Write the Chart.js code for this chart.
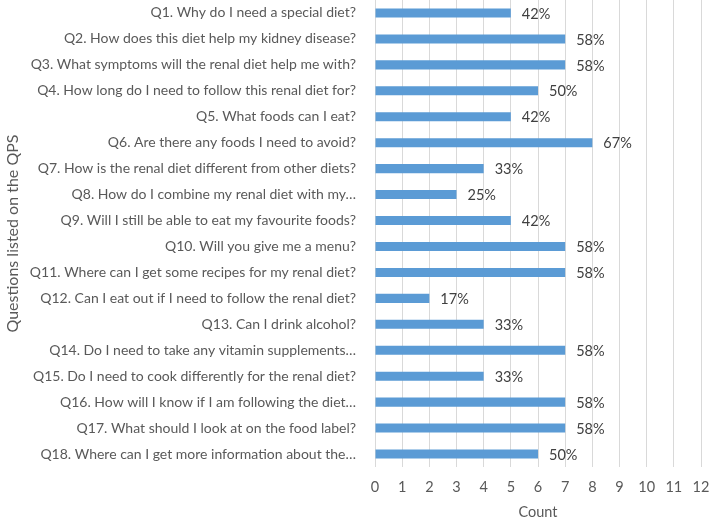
<!DOCTYPE html>
<html>
<head>
<meta charset="utf-8">
<script src="https://cdn.jsdelivr.net/npm/chart.js@4/dist/chart.umd.min.js"></script>
<style>
  html, body { margin: 0; padding: 0; background: #fff; }
  #wrap { width: 709px; height: 517px; }
</style>
</head>
<body>
<div id="wrap"><canvas id="myChart"></canvas></div>
<script>

// questions from the QPS
var questions = [
	"Q1. Why do I need a special diet?",
	"Q2. How does this diet help my kidney disease?",
	"Q3. What symptoms will the renal diet help me with?",
	"Q4. How long do I need to follow this renal diet for?",
	"Q5. What foods can I eat?",
	"Q6. Are there any foods I need to avoid?",
	"Q7. How is the renal diet different from other diets?",
	"Q8. How do I combine my renal diet with my\u2026",
	"Q9. Will I still be able to eat my favourite foods?",
	"Q10. Will you give me a menu?",
	"Q11. Where can I get some recipes for my renal diet?",
	"Q12. Can I eat out if I need to follow the renal diet?",
	"Q13. Can I drink alcohol?",
	"Q14. Do I need to take any vitamin supplements\u2026",
	"Q15. Do I need to cook differently for the renal diet?",
	"Q16. How will I know if I am following the diet\u2026",
	"Q17. What should I look at on the food label?",
	"Q18. Where can I get more information about the\u2026"
];

var counts = [5, 7, 7, 6, 5, 8, 4, 3, 5, 7, 7, 2, 4, 7, 4, 7, 7, 6];

var percentLabels = ["42%", "58%", "58%", "50%", "42%", "67%", "33%", "25%", "42%",
	"58%", "58%", "17%", "33%", "58%", "33%", "58%", "58%", "50%"];

var xTicks = [0, 1, 2, 3, 4, 5, 6, 7, 8, 9, 10, 11, 12];

var textColor = '#595959';
var fontFamily = 'Lato, "Open Sans", sans-serif';

// draws the percent next to each bar
var barLabels = {
	id: 'barLabels',
	afterDatasetsDraw(chart){
		const ctx = chart.ctx;
		const meta = chart.getDatasetMeta(0);
		ctx.save();
		ctx.fillStyle = '#404040';
		ctx.font = '14.5px ' + fontFamily;
		ctx.textAlign = 'left';
		ctx.textBaseline = 'middle';
		meta.data.forEach(function(bar, i){
			ctx.fillText(percentLabels[i], bar.x + 11, bar.y + 1);
		});
		ctx.restore();
	}
};

const ctx = document.getElementById('myChart').getContext('2d');
const chart = new Chart(ctx, {
	type: 'bar',
	data: {
		labels: questions,
		datasets: [{
			label: 'Count',
			data: counts,
			backgroundColor: '#5b9bd5',
			borderWidth: 0,
			barPercentage: 0.7,
			categoryPercentage: 0.5
		}]
	},
	options: {
		indexAxis: 'y',
		responsive: true,
		maintainAspectRatio: false,
		animation: false,
		layout: { padding: { top: 0, right: 8, bottom: 0, left: 3 } },
		plugins: {
			legend: { display: false },
			tooltip: { enabled: false }
		},
		scales: {
			x: {
				min: 0,
				max: 12,
				afterBuildTicks(scale){
					scale.ticks = xTicks.map(function(v){ return { value: v }; });
				},
				afterFit(scale){
					scale.height = 50;
					scale.paddingLeft = 0;
					scale.paddingRight = 0;
				},
				grid: { color: '#d9d9d9', drawTicks: false },
				border: { display: false },
				ticks: { color: textColor, font: { family: fontFamily, size: 14.5 }, padding: 12 },
				title: { display: true, text: 'Count', color: textColor, font: { family: fontFamily, size: 14.5, lineHeight: 1 }, padding: { top: 4, bottom: -3 } }
			},
			y: {
				grid: { display: false },
				border: { display: false },
				afterFit(scale){
					scale.width = 372;
					scale.paddingTop = 0;
					scale.paddingBottom = 0;
				},
				ticks: { color: textColor, font: { family: fontFamily, size: 14 }, padding: 11, autoSkip: false },
				title: { display: true, text: 'Questions listed on the QPS', color: textColor, font: { family: fontFamily, size: 16 }, padding: { top: 0, bottom: 0 } }
			}
		}
	},
	plugins: [barLabels]
});

</script>
</body>
</html>
